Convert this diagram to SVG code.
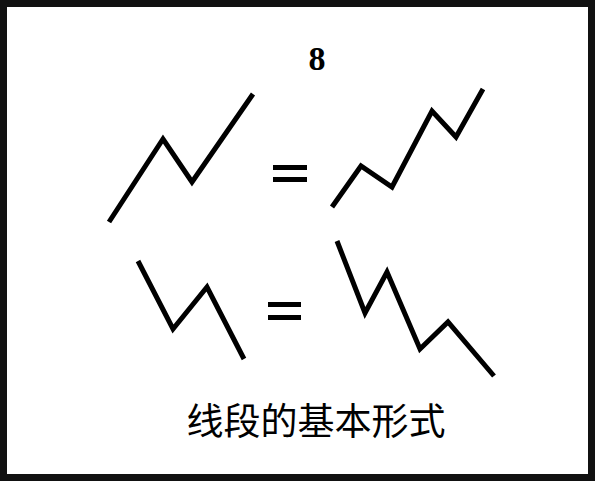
<svg xmlns="http://www.w3.org/2000/svg" width="595" height="481" viewBox="0 0 595 481">
<style>
.zz{fill:none;stroke:#000;stroke-width:5;stroke-linejoin:miter;stroke-linecap:butt}
.eq{fill:#000}
.t{font-family:"Noto Sans CJK SC",sans-serif;font-size:37px;fill:#000}
.n{font-family:"Liberation Serif",serif;font-weight:bold;font-size:34px;fill:#000}
</style>
<rect x="0" y="0" width="595" height="481" fill="#fff"/>
<rect x="3.5" y="3.5" width="588" height="474" fill="none" stroke="#111" stroke-width="7"/>
<text class="n" x="317" y="70" text-anchor="middle">8</text>
<g id="up-left"><polyline class="zz" points="109,222 163,139 192,182 253,94"/></g>
<g id="eq-top"><rect class="eq" x="273" y="165" width="34" height="5"/><rect class="eq" x="273" y="177" width="34" height="5"/></g>
<g id="up-right"><polyline class="zz" points="332,207 361,166 392,187 432,111 456,137 483,89"/></g>
<g id="down-left"><polyline class="zz" points="138,261 173,329 207,287 244,359"/></g>
<g id="eq-bottom"><rect class="eq" x="268" y="302" width="33" height="5"/><rect class="eq" x="268" y="315" width="33" height="5"/></g>
<g id="down-right"><polyline class="zz" points="337,241 365,313 387,272 420,349 448,322 494,376"/></g>
<text class="t" x="316" y="435" text-anchor="middle">线段的基本形式</text>
</svg>
